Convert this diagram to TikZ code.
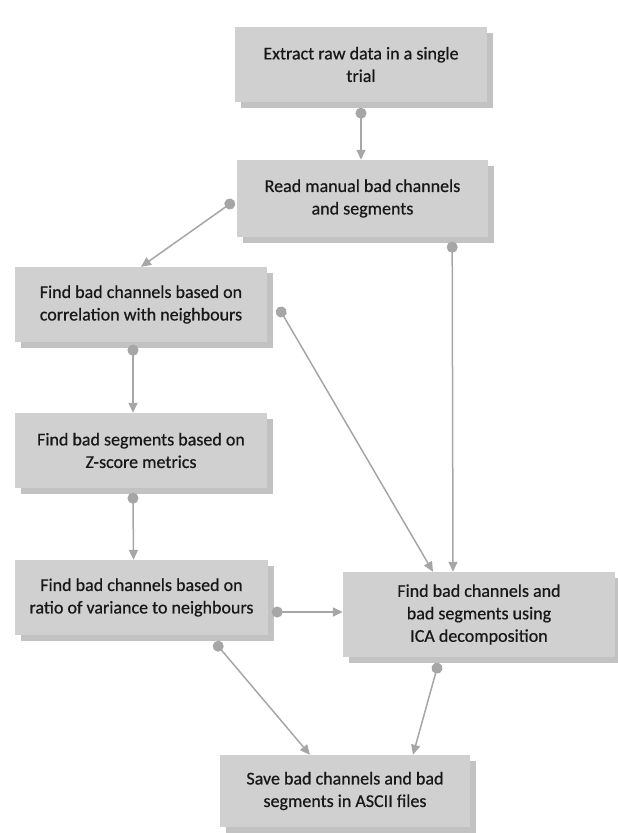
\documentclass[tikz,border=0pt]{standalone}
\usepackage{fontspec}
\setmainfont{Carlito}[FakeBold=0.6]
\usetikzlibrary{arrows.meta,shadows}
\definecolor{boxgray}{RGB}{208,208,208}
\definecolor{shadowgray}{RGB}{194,194,194}
\definecolor{linegray}{RGB}{166,166,166}
\definecolor{textgray}{RGB}{24,24,24}
\begin{document}
\begin{tikzpicture}[x=1pt, y=-1pt,
		stepbox/.style={rectangle, fill=boxgray, inner sep=0pt, align=center, text=textgray,
			font=\fontsize{18}{22.5}\selectfont, minimum width=252pt, minimum height=75pt,
			drop shadow={shadow xshift=6pt, shadow yshift=-6pt, fill=shadowgray, opacity=1}},
		flow/.style={draw=linegray, line width=1.5pt, shorten <=-5.5pt,
			{Circle[length=11pt]}-{Triangle[length=10pt, width=9pt]}}]
	\useasboundingbox (0,0) rectangle (618,833);
	% boxes
	\node [stepbox] (extract) at (361,64.5) {Extract raw data in a single\\trial};
	\node [stepbox, minimum width=251pt, minimum height=77pt] (read) at (362.5,198.5) {Read manual bad channels\\and segments};
	\node [stepbox] (corr) at (141,304.5) {Find bad channels based on\\correlation with neighbours};
	\node [stepbox] (zscore) at (141,450.5) {Find bad segments based on\\Z-score metrics};
	\node [stepbox, minimum width=253pt] (ratio) at (141.5,597.5) {Find bad channels based on\\ratio of variance to neighbours};
	\node [stepbox, minimum width=272pt, minimum height=85pt] (ica) at (479,614.5) {Find bad channels and\\bad segments using\\ICA decomposition};
	\node [stepbox, minimum width=250pt, minimum height=72pt] (save) at (345,791) {Save bad channels and bad\\segments in ASCII files};
	% connectors
	\draw[flow] ([shift={(0,11)}]extract.south) -- (extract.south |- read.north);
	\draw[flow] ([shift={(-7,5.5)}]read.west) -- (corr.north);
	\draw[flow] ([shift={(-36,10)}]read.south east) -- ([shift={(-26,0)}]ica.north);
	\draw[flow] ([shift={(14,7.5)}]corr.east) -- ([shift={(-46,0)}]ica.north);
	\draw[flow] ([shift={(-8,8)}]corr.south) -- ([shift={(-8,0)}]zscore.north);
	\draw[flow] ([shift={(-8,10)}]zscore.south) -- ([shift={(-8,0)}]ratio.north);
	\draw[flow] ([shift={(9,14.5)}]ratio.east) -- ([shift={(0,-2.5)}]ica.west);
	\draw[flow] ([shift={(-50,11)}]ratio.south east) -- ([shift={(-35,0)}]save.north);
	\draw[flow] ([shift={(-42,11)}]ica.south) -- ([shift={(68,0)}]save.north);
\end{tikzpicture}
\end{document}
